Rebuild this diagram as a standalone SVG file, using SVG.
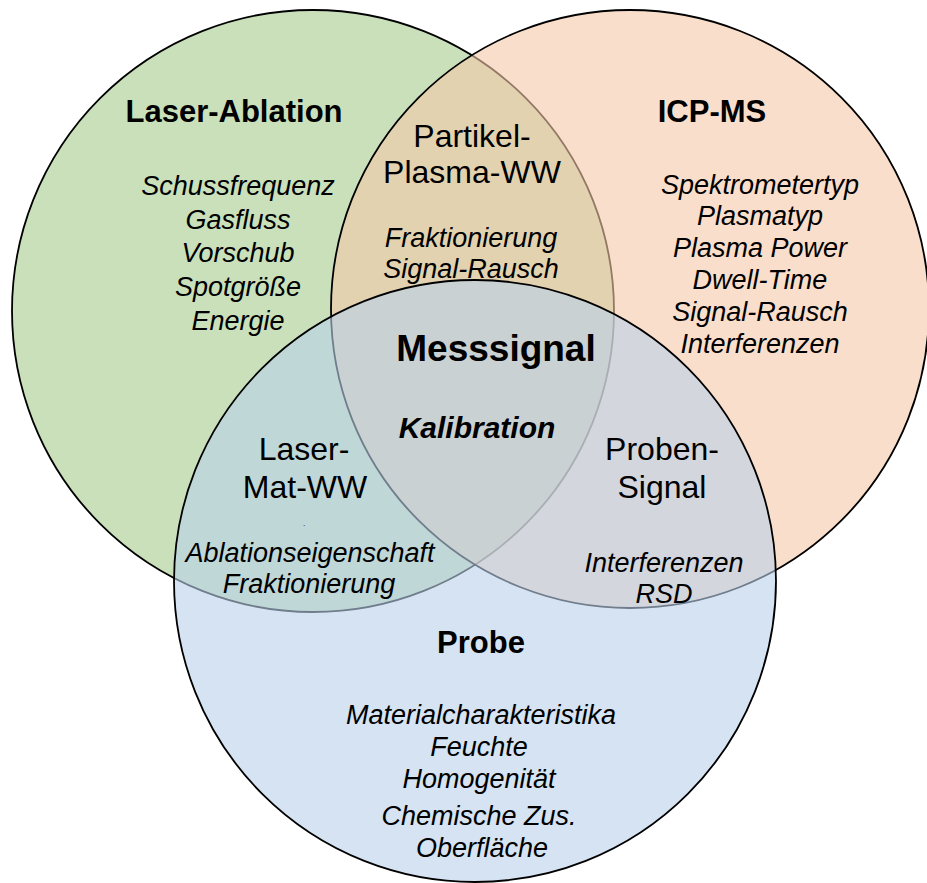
<svg xmlns="http://www.w3.org/2000/svg" width="927" height="883" viewBox="0 0 927 883">
<style>
  text { font-family: "Liberation Sans", Arial, sans-serif; fill: #000; text-anchor: middle; }
  .c { stroke: #000; stroke-width: 1.8; fill-opacity: 0.6; }
  .h { font-size: 31px; font-weight: bold; }
  .r { font-size: 32px; }
  .i { font-size: 27px; font-style: italic; }
</style>
<rect width="927" height="883" fill="#fff"/>
<g id="circles">
  <circle id="laser-ablation-circle" class="c" cx="313" cy="311" r="301" fill="#A5CB8E"/>
  <circle id="icp-ms-circle" class="c" cx="630" cy="309" r="299" fill="#F5C8A8"/>
  <circle id="probe-circle" class="c" cx="475" cy="581" r="301" fill="#B9D0E9"/>
</g>
<g id="connectors"/>
<g id="laser-ablation">
  <text class="h" x="234" y="122">Laser-Ablation</text>
  <text class="i" x="238" y="195">Schussfrequenz</text>
  <text class="i" x="238" y="229">Gasfluss</text>
  <text class="i" x="238" y="262">Vorschub</text>
  <text class="i" x="238" y="296">Spotgröße</text>
  <text class="i" x="238" y="330">Energie</text>
</g>
<g id="icp-ms">
  <text class="h" x="712" y="122">ICP-MS</text>
  <text class="i" x="760" y="194">Spektrometertyp</text>
  <text class="i" x="760" y="225">Plasmatyp</text>
  <text class="i" x="760" y="257">Plasma Power</text>
  <text class="i" x="760" y="289">Dwell-Time</text>
  <text class="i" x="760" y="321">Signal-Rausch</text>
  <text class="i" x="760" y="353">Interferenzen</text>
</g>
<g id="partikel-plasma-ww">
  <text class="r" x="472" y="147">Partikel-</text>
  <text class="r" x="472" y="183">Plasma-WW</text>
  <text class="i" x="471" y="247">Fraktionierung</text>
  <text class="i" x="471" y="278">Signal-Rausch</text>
</g>
<g id="messsignal">
  <text x="496" y="361" style="font-size:37px;font-weight:bold">Messsignal</text>
  <text x="477" y="438" style="font-size:30px;font-weight:bold;font-style:italic">Kalibration</text>
</g>
<g id="laser-mat-ww">
  <text class="r" x="304" y="460">Laser-</text>
  <text class="r" x="305" y="498">Mat-WW</text>
  <text x="304" y="526" style="font-size:8px">.</text>
  <text class="i" x="310" y="562">Ablationseigenschaft</text>
  <text class="i" x="309" y="593">Fraktionierung</text>
</g>
<g id="proben-signal">
  <text class="r" x="662" y="460">Proben-</text>
  <text class="r" x="662" y="498">Signal</text>
  <text class="i" x="664" y="572">Interferenzen</text>
  <text class="i" x="664" y="603">RSD</text>
</g>
<g id="probe">
  <text class="h" x="481" y="653">Probe</text>
  <text class="i" x="481" y="724">Materialcharakteristika</text>
  <text class="i" x="479" y="756">Feuchte</text>
  <text class="i" x="479" y="788">Homogenität</text>
  <text class="i" x="479" y="825">Chemische Zus.</text>
  <text class="i" x="482" y="857">Oberfläche</text>
</g>
</svg>
